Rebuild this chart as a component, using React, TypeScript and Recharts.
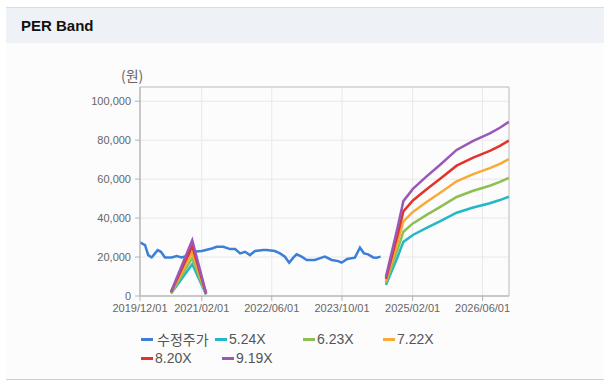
import {
  LineChart,
  Line,
  XAxis,
  YAxis,
  CartesianGrid,
  ReferenceArea
} from 'recharts'

// adjusted share price (수정주가)
const priceDates = [
  '2019-12-01', '2020-01-05', '2020-01-27', '2020-02-20', '2020-03-14', '2020-04-02',
  '2020-04-24', '2020-05-22', '2020-07-08', '2020-08-11', '2020-09-15', '2020-10-19',
  '2020-12-04', '2021-02-01', '2021-04-12', '2021-05-16', '2021-07-01', '2021-08-16',
  '2021-09-20', '2021-10-25', '2021-11-28', '2022-01-01', '2022-02-05', '2022-04-03',
  '2022-04-27', '2022-06-23', '2022-07-28', '2022-08-31', '2022-09-30', '2022-10-28',
  '2022-11-20', '2022-12-25', '2023-01-29', '2023-03-27', '2023-05-13', '2023-06-04',
  '2023-07-21', '2023-09-05', '2023-09-28', '2023-11-06', '2023-12-29', '2024-02-02',
  '2024-03-01', '2024-03-30', '2024-05-04', '2024-05-28', '2024-06-24'
]
const priceValues = [
  27500, 26100, 21000, 19800, 21900, 23600,
  22700, 19800, 19800, 20500, 19800, 20500,
  22700, 23100, 24400, 25300, 25300, 24100,
  24100, 21900, 22700, 21000, 23100, 23600,
  23600, 23100, 21900, 20200, 17100, 19700,
  21400, 20200, 18500, 18500, 19700, 20200,
  18500, 17900, 17100, 19000, 19700, 24800,
  21900, 21400, 19800, 19700, 20200
]

// PER band lines (null = gap between the two segments)
const bandDates = [
  '2020-07-03', '2020-11-27', '2021-03-03', '2022-12-01',
  '2024-07-31', '2024-09-11', '2024-10-22', '2024-11-29', '2025-02-03', '2025-05-09',
  '2025-08-09', '2025-12-03', '2026-03-28', '2026-07-21', '2026-09-29', '2026-11-30'
]
const band524 = [1260, 16350, 790, null, 5610, 13100, 20440, 27770, 31340, 35000, 38360, 42760, 45430, 47630, 49260, 50990]
const band623 = [1500, 19440, 930, null, 6670, 15580, 24300, 33020, 37260, 41620, 45600, 50840, 54010, 56630, 58560, 60620]
const band722 = [1730, 22530, 1080, null, 7730, 18050, 28160, 38270, 43180, 48230, 52850, 58920, 62600, 65630, 67870, 70250]
const band820 = [1970, 25580, 1230, null, 8770, 20500, 31980, 43460, 49040, 54780, 60020, 66910, 71090, 74540, 77080, 79790]
const band919 = [2210, 28670, 1380, null, 9830, 22980, 35840, 48710, 54960, 61390, 67270, 74990, 79680, 83540, 86390, 89420]

const seriesNames = ['수정주가', '5.24X', '6.23X', '7.22X', '8.20X', '9.19X']
const seriesColors = ['#3c7fd9', '#22b8c8', '#8dbf52', '#f9a937', '#e2342c', '#9a58b6']

const xTickLabels = ['2019/12/01', '2021/02/01', '2022/06/01', '2023/10/01', '2025/02/01', '2026/06/01']
const yTicks = [0, 20000, 40000, 60000, 80000, 100000]
const X_START = '2019-12-01'
const X_END = '2026-12-01'
const Y_MAX = 107300

const ts = (s: string) => {
  const [y, m, d] = s.split(/[-/]/).map(Number)
  return Date.UTC(y, m - 1, d)
}

const priceData = priceDates.map((d, i) => ({ t: ts(d), v: priceValues[i] }))
const bandData = [band524, band623, band722, band820, band919].map(vals =>
  bandDates.map((d, i) => ({ t: ts(d), v: vals[i] }))
)
const xTicks = xTickLabels.map(ts)

// legend item spots, copied from the page layout
const legendPos = [
  { left: 141, top: 330 },
  { left: 215, top: 330 },
  { left: 303, top: 330 },
  { left: 383, top: 330 },
  { left: 141, top: 349 },
  { left: 222, top: 349 }
]

const font = '"Liberation Sans", Arial, "Noto Sans CJK KR", sans-serif'
const tickStyle = { fontSize: 11, fill: '#666', fontFamily: font }

export default function App() {
  return (
    <div style={{ position: 'absolute', left: 0, top: 0, width: 615, height: 385, background: '#fff', fontFamily: font }}>
      <div style={{
        position: 'absolute', left: 6, top: 7, width: 598, height: 371,
        borderTop: '1px solid #dcdcdc', borderBottom: '1px solid #cfcfcf', background: '#fcfcfc'
      }}>
        <div style={{
          height: 35, lineHeight: '35px', background: '#eef2f7', paddingLeft: 15,
          fontWeight: 'bold', fontSize: 15, color: '#111'
        }}>
          PER Band
        </div>
      </div>

      <span style={{
        position: 'absolute', left: 121, top: 66, fontSize: 14, color: '#666',
        fontFamily: '"Noto Sans CJK KR", sans-serif', lineHeight: '18px'
      }}>(원)</span>

      <div style={{ position: 'absolute', left: 0, top: 43 }}>
        <LineChart width={600} height={287} margin={{ top: 44, right: 91, bottom: 4, left: 80 }}>
          <CartesianGrid stroke="#e8e8e8" ticks={undefined} />
          <XAxis
            dataKey="t"
            type="number"
            domain={[ts(X_START), ts(X_END)]}
            allowDataOverflow
            ticks={xTicks}
            tickFormatter={(v: number) => xTickLabels[xTicks.indexOf(v)] ?? ''}
            tick={tickStyle}
            tickSize={5}
            tickMargin={3}
            height={30}
            interval={0}
            stroke="#b5b5b5"
          />
          <YAxis
            type="number"
            domain={[0, Y_MAX]}
            allowDataOverflow
            ticks={yTicks}
            tickFormatter={(v: number) => v.toLocaleString('en-US')}
            tick={tickStyle}
            tickSize={5}
            tickMargin={4}
            width={60}
            interval={0}
            stroke="#b5b5b5"
          />
          <ReferenceArea
            x1={ts(X_START)}
            x2={ts(X_END)}
            y1={0}
            y2={Y_MAX}
            fill="none"
            stroke="#c4c4c4"
            ifOverflow="visible"
          />
          <Line
            data={priceData}
            dataKey="v"
            name={seriesNames[0]}
            type="linear"
            stroke={seriesColors[0]}
            strokeWidth={2.5}
            dot={false}
            isAnimationActive={false}
          />
          {bandData.map((d, i) => (
            <Line
              key={seriesNames[i + 1]}
              data={d}
              dataKey="v"
              name={seriesNames[i + 1]}
              type="linear"
              stroke={seriesColors[i + 1]}
              strokeWidth={2.5}
              dot={false}
              connectNulls={false}
              isAnimationActive={false}
            />
          ))}
        </LineChart>
      </div>

      {seriesNames.map((name, i) => (
        <div key={name} style={{
          position: 'absolute', left: legendPos[i].left, top: legendPos[i].top,
          height: 18, display: 'flex', alignItems: 'center', fontSize: 14, color: '#555'
        }}>
          <span style={{ display: 'inline-block', width: 12, height: 3, background: seriesColors[i], marginRight: i === 0 ? 4 : 2 }} />
          <span>{name}</span>
        </div>
      ))}
    </div>
  )
}
